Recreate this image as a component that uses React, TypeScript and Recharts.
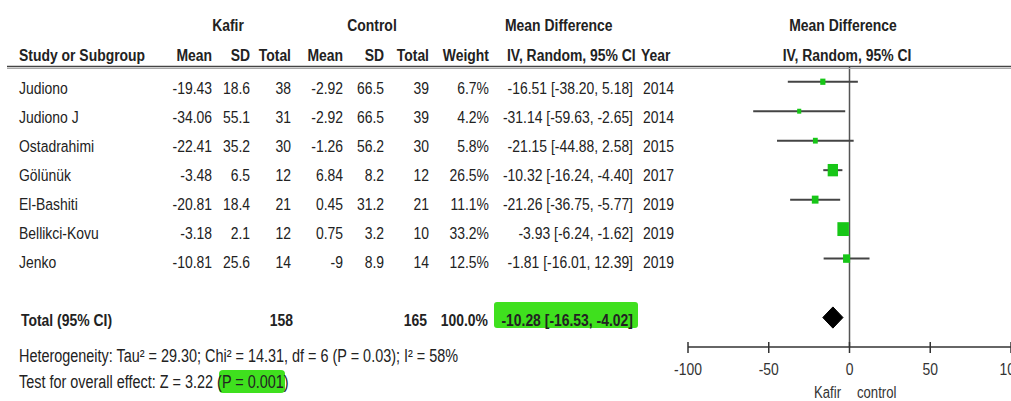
import React from 'react';
import { ComposedChart, XAxis, YAxis, Scatter, ErrorBar, Area, ReferenceLine } from 'recharts';

const studies = ['Judiono', 'Judiono J', 'Ostadrahimi', 'Gölünük', 'El-Bashiti', 'Bellikci-Kovu', 'Jenko'];
const kafirMean = [-19.43, -34.06, -22.41, -3.48, -20.81, -3.18, -10.81];
const kafirSD = [18.6, 55.1, 35.2, 6.5, 18.4, 2.1, 25.6];
const kafirN = [38, 31, 30, 12, 21, 12, 14];
const ctrlMean = [-2.92, -2.92, -1.26, 6.84, 0.45, 0.75, -9];
const ctrlSD = [66.5, 66.5, 56.2, 8.2, 31.2, 3.2, 8.9];
const ctrlN = [39, 39, 30, 12, 21, 10, 14];
const weights = [6.7, 4.2, 5.8, 26.5, 11.1, 33.2, 12.5];
const meanDiff = [-16.51, -31.14, -21.15, -10.32, -21.26, -3.93, -1.81];
const ciLow = [-38.2, -59.63, -44.88, -16.24, -36.75, -6.24, -16.01];
const ciHigh = [5.18, -2.65, 2.58, -4.4, -5.77, -1.62, 12.39];
const years = [2014, 2014, 2015, 2017, 2019, 2019, 2019];

const totalKafirN = 158;
const totalCtrlN = 165;
const totalWeight = 100.0;
const totalMD = -10.28;
const totalLow = -16.53;
const totalHigh = -4.02;

const heterogeneityText = 'Heterogeneity: Tau² = 29.30; Chi² = 14.31, df = 6 (P = 0.03); I² = 58%';
const overallPrefix = 'Test for overall effect: Z = 3.22 (';
const overallP = 'P = 0.001';
const overallSuffix = ')';

const xTicks = [-100, -50, 0, 50, 100];
const favoursLabels = ['Kafir', 'control'];

const W = 1011;
const H = 401;
const FONT = "'Liberation Sans', Arial, sans-serif";
const NARROW = 0.82;
const TEXT = '#222';
const GREEN = '#17c617';
const HILITE = '#3fe01e';

const markerData = studies.map((s, i) => ({
  name: s,
  x: meanDiff[i],
  y: i,
  err: [meanDiff[i] - ciLow[i], ciHigh[i] - meanDiff[i]],
  w: weights[i],
}));

const totalRow = studies.length + 1;
const diamondHalf = 0.36;
const diamondData = [
  { x: totalLow, band: [totalRow, totalRow] },
  { x: totalMD, band: [totalRow - diamondHalf, totalRow + diamondHalf] },
  { x: totalHigh, band: [totalRow, totalRow] },
];

const ciText = (m: number, l: number, h: number) => `${m.toFixed(2)} [${l.toFixed(2)}, ${h.toFixed(2)}]`;

const Square = (p: any) => {
  const s = 2 * Math.sqrt(p.payload.w);
  const h = s * 1.2;
  return <rect x={p.cx - s / 2} y={p.cy - h / 2} width={s} height={h} fill={GREEN} />;
};

const T = ({ x, y, children, ...rest }: any) => (
  <text
    transform={`translate(${x} ${y}) scale(${NARROW} 1)`}
    x={0}
    y={0}
    fontFamily={FONT}
    fontSize={17}
    fill={TEXT}
    {...rest}
  >
    {children}
  </text>
);

const Tick = (p: any) => {
  const { x, y, payload } = p;
  return (
    <g>
      <line x1={x} x2={x} y1={y - 5} y2={y + 6} stroke="#333" strokeWidth={1.5} />
      <T x={x} y={y + 28} textAnchor="middle" fill="#333">
        {payload.value}
      </T>
    </g>
  );
};

export default function App() {
  const rowBase = (i: number) => 94 + 29 * i;
  const numCols: { v: (i: number) => string; x: number }[] = [
    { v: (i) => String(kafirMean[i]), x: 212 },
    { v: (i) => String(kafirSD[i]), x: 250 },
    { v: (i) => String(kafirN[i]), x: 291 },
    { v: (i) => String(ctrlMean[i]), x: 343 },
    { v: (i) => String(ctrlSD[i]), x: 384 },
    { v: (i) => String(ctrlN[i]), x: 429 },
    { v: (i) => `${weights[i].toFixed(1)}%`, x: 489 },
    { v: (i) => ciText(meanDiff[i], ciLow[i], ciHigh[i]), x: 633 },
  ];
  return (
    <div style={{ position: 'absolute', left: 0, top: 0, width: W, height: H, background: '#fff' }}>
      <ComposedChart width={W} height={H} margin={{ top: 67, right: 0, bottom: 24, left: 688 }}>
        <XAxis
          type="number"
          dataKey="x"
          domain={[-100, 100]}
          allowDataOverflow
          ticks={xTicks}
          interval={0}
          height={30}
          tickSize={0}
          tickMargin={0}
          tickLine={false}
          axisLine={{ stroke: '#333', strokeWidth: 1.5 }}
          tick={<Tick />}
        />
        <YAxis type="number" dataKey="y" domain={[-0.5, 9]} reversed hide width={0} allowDataOverflow />
        <ReferenceLine x={0} stroke="#555" strokeWidth={1.5} />
        <Area
          data={diamondData}
          dataKey="band"
          type="linear"
          stroke="#000"
          strokeWidth={1}
          fill="#000"
          fillOpacity={1}
          isAnimationActive={false}
          dot={false}
          activeDot={false}
        />
        <Scatter data={markerData} dataKey="y" shape={<Square />} isAnimationActive={false}>
          <ErrorBar dataKey="err" direction="x" width={0} stroke="#444" strokeWidth={2} />
        </Scatter>
      </ComposedChart>
      <svg width={W} height={H} style={{ position: 'absolute', left: 0, top: 0, pointerEvents: 'none' }}>
        {/* header */}
        <T x={228} y={31} textAnchor="middle" fontWeight="bold">Kafir</T>
        <T x={372} y={31} textAnchor="middle" fontWeight="bold">Control</T>
        <T x={505} y={31} fontWeight="bold">Mean Difference</T>
        <T x={843} y={31} textAnchor="middle" fontWeight="bold">Mean Difference</T>
        <T x={19} y={61} fontWeight="bold">Study or Subgroup</T>
        <T x={212} y={61} textAnchor="end" fontWeight="bold">Mean</T>
        <T x={250} y={61} textAnchor="end" fontWeight="bold">SD</T>
        <T x={291} y={61} textAnchor="end" fontWeight="bold">Total</T>
        <T x={343} y={61} textAnchor="end" fontWeight="bold">Mean</T>
        <T x={384} y={61} textAnchor="end" fontWeight="bold">SD</T>
        <T x={429} y={61} textAnchor="end" fontWeight="bold">Total</T>
        <T x={489} y={61} textAnchor="end" fontWeight="bold">Weight</T>
        <T x={507} y={61} fontWeight="bold">IV, Random, 95% CI</T>
        <T x={641} y={61} fontWeight="bold">Year</T>
        <T x={847} y={61} textAnchor="middle" fontWeight="bold">IV, Random, 95% CI</T>
        <line x1={7} x2={W} y1={66.5} y2={66.5} stroke="#444" strokeWidth={1.5} />
        <line x1={7} x2={W} y1={68.5} y2={68.5} stroke="#aaa" strokeWidth={1} />

        {/* study rows */}
        {studies.map((s, i) => (
          <g key={s}>
            <T x={19} y={rowBase(i)}>{s}</T>
            {numCols.map((c, k) => (
              <T key={k} x={c.x} y={rowBase(i)} textAnchor="end">{c.v(i)}</T>
            ))}
            <T x={643} y={rowBase(i)}>{years[i]}</T>
          </g>
        ))}

        {/* total row */}
        <rect x={494} y={302} width={144} height={26} rx={3} fill={HILITE} />
        <T x={21} y={326} fontWeight="bold">Total (95% CI)</T>
        <T x={293} y={326} textAnchor="end" fontWeight="bold">{totalKafirN}</T>
        <T x={427} y={326} textAnchor="end" fontWeight="bold">{totalCtrlN}</T>
        <T x={488} y={326} textAnchor="end" fontWeight="bold">{`${totalWeight.toFixed(1)}%`}</T>
        <T x={633} y={326} textAnchor="end" fontWeight="bold">{ciText(totalMD, totalLow, totalHigh)}</T>

        <T x={19} y={362} fontSize={17.6}>{heterogeneityText}</T>
        <rect x={219} y={370} width={66} height={23} rx={4} fill={HILITE} />
        <T x={19} y={388} fontSize={17.6}>
          {overallPrefix}
          <tspan>{overallP}</tspan>
          {overallSuffix}
        </T>

        <T x={841} y={398} textAnchor="end" fontSize={16} fill="#333">{favoursLabels[0]}</T>
        <T x={857} y={398} fontSize={16} fill="#333">{favoursLabels[1]}</T>
      </svg>
    </div>
  );
}
